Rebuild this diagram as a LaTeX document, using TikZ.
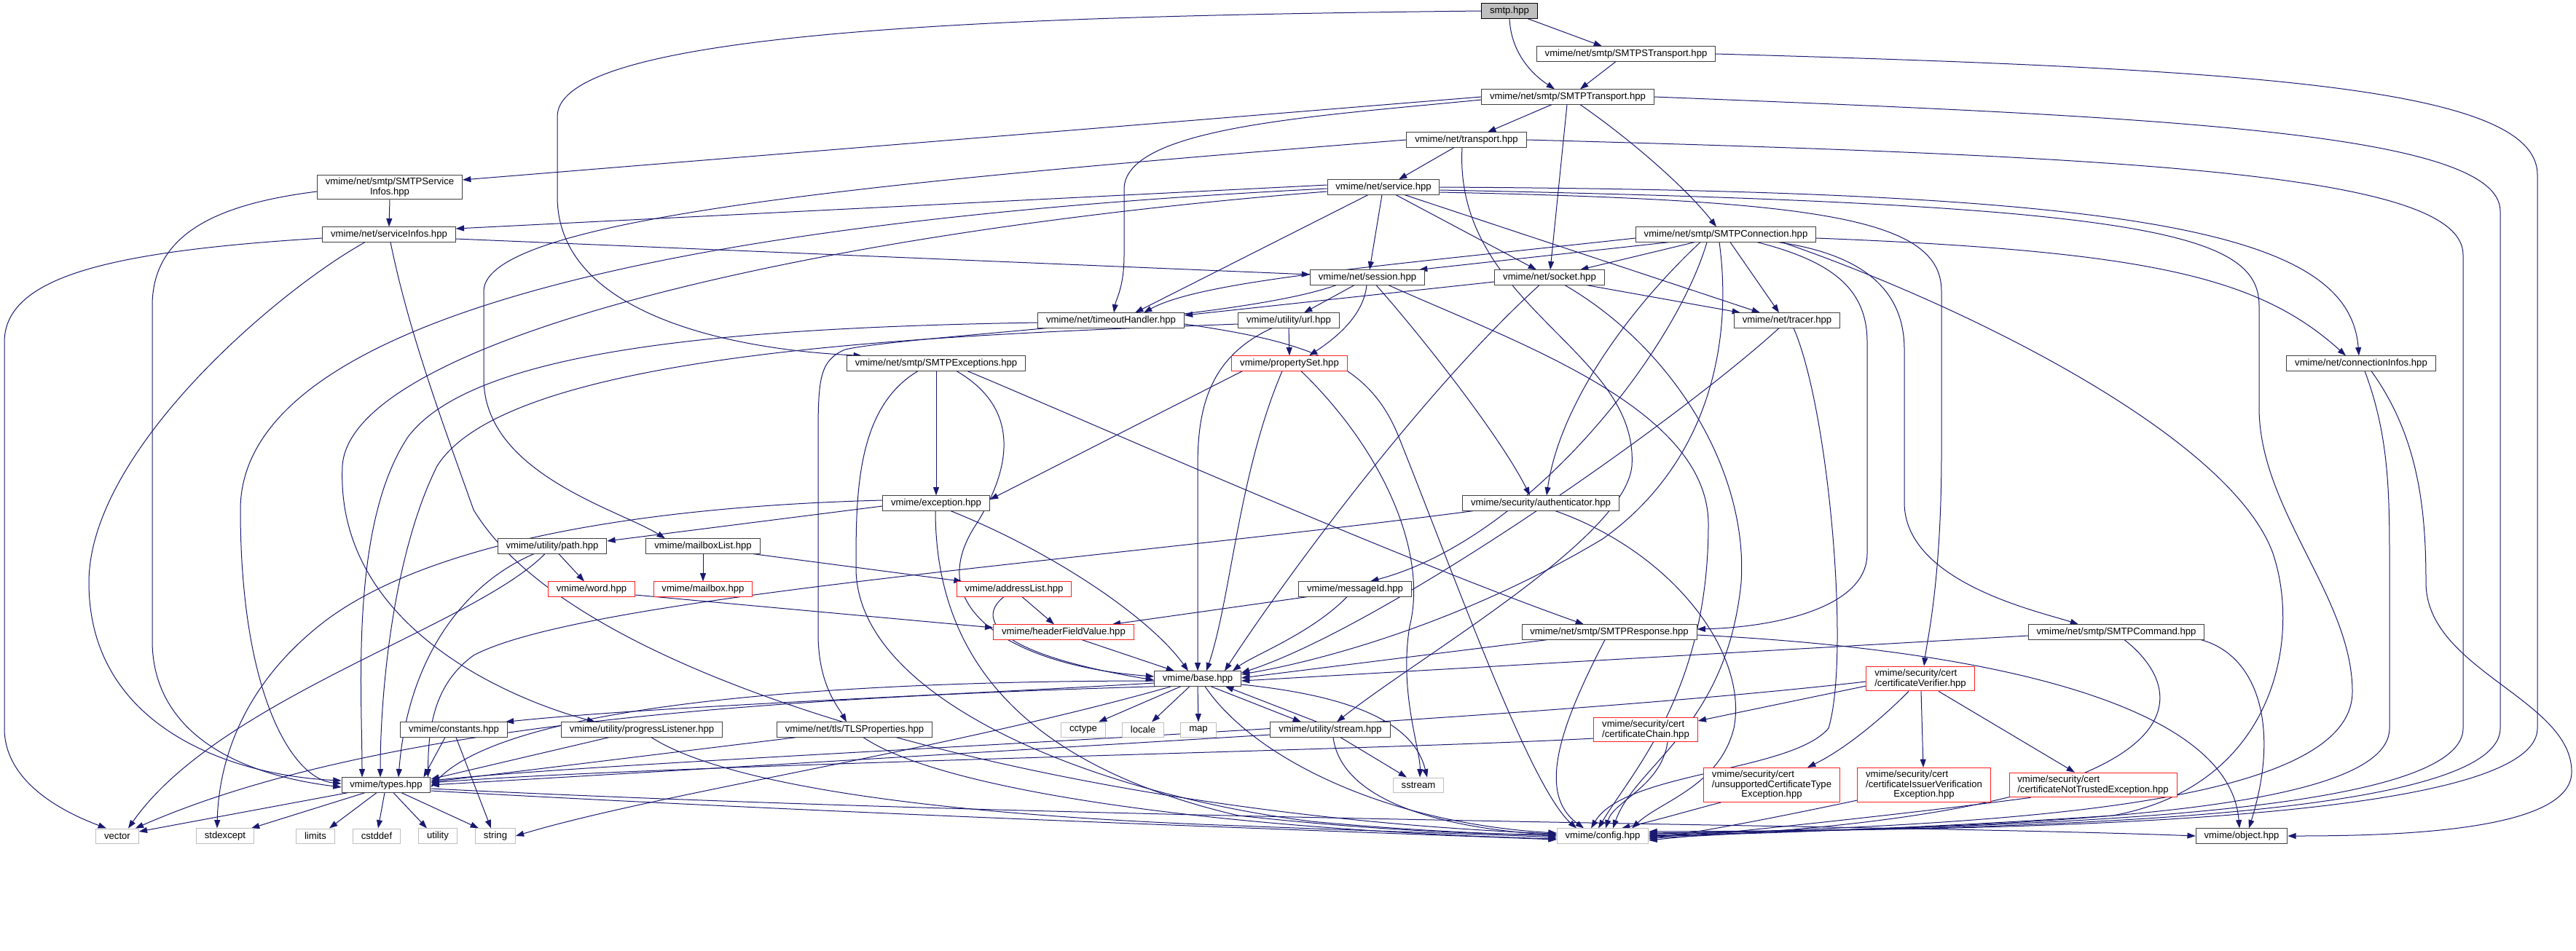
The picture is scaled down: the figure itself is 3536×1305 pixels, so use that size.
\documentclass[tikz,border=0pt]{standalone}
\usepackage{fontspec}
\setmainfont{Liberation Sans}
\usetikzlibrary{calc, arrows.meta, backgrounds}

\definecolor{edgeblue}{HTML}{191970}
\definecolor{sysgray}{HTML}{BFBFBF}
\definecolor{boxline}{HTML}{404040}
\definecolor{redbox}{HTML}{FF2020}

\tikzset{
  hdr/.style={draw=boxline, fill=white, line width=0.3mm, rectangle,
    inner xsep=3.4mm, inner ysep=1.2mm, minimum height=6mm,
    font=\fontsize{11.2}{10}\selectfont},
  hdrred/.style={hdr, draw=redbox},
  sys/.style={hdr, draw=sysgray},
  root/.style={hdr, draw=black, fill=sysgray},
  dep/.style={draw=edgeblue, line width=0.3mm,
    -{Triangle[length=3.4mm,width=2.4mm]}}
}

\begin{document}
\begin{tikzpicture}[x=0.3mm, y=-0.3mm]
  \useasboundingbox (0,0) rectangle (3536,1305);

  % files of the graph, one pixel of the reference = one unit
  \node[root] (smtp) at (2072,15) {smtp.hpp};
  \node[hdr] (SSTr) at (2232,74) {vmime/net/smtp/SMTPSTransport.hpp};
  \node[hdr] (STr) at (2152,133) {vmime/net/smtp/SMTPTransport.hpp};
  \node[hdr] (trans) at (2013,192) {vmime/net/transport.hpp};
  \node[hdr] (serv) at (1899,257) {vmime/net/service.hpp};
  \node[hdr, align=center] (SSI) at (535,257) {vmime/net/smtp/SMTPService\\Infos.hpp};
  \node[hdr] (SI) at (534,322) {vmime/net/serviceInfos.hpp};
  \node[hdr] (SConn) at (2369,322) {vmime/net/smtp/SMTPConnection.hpp};
  \node[hdr] (sess) at (1877,381) {vmime/net/session.hpp};
  \node[hdr] (sock) at (2127,381) {vmime/net/socket.hpp};
  \node[hdr] (toh) at (1525,440) {vmime/net/timeoutHandler.hpp};
  \node[hdr] (url) at (1769,440) {vmime/utility/url.hpp};
  \node[hdr] (tracer) at (2453,440) {vmime/net/tracer.hpp};
  \node[hdr] (SExc) at (1285,499) {vmime/net/smtp/SMTPExceptions.hpp};
  \node[hdrred] (pset) at (1770,499) {vmime/propertySet.hpp};
  \node[hdr] (cinfo) at (3241,499) {vmime/net/connectionInfos.hpp};
  \node[hdr] (exc) at (1285,691) {vmime/exception.hpp};
  \node[hdr] (auth) at (2115,691) {vmime/security/authenticator.hpp};
  \node[hdr] (upath) at (758,750) {vmime/utility/path.hpp};
  \node[hdr] (mblist) at (965,750) {vmime/mailboxList.hpp};
  \node[hdrred] (word) at (812,809) {vmime/word.hpp};
  \node[hdrred] (mbox) at (965,809) {vmime/mailbox.hpp};
  \node[hdrred] (alist) at (1392,809) {vmime/addressList.hpp};
  \node[hdr] (msgid) at (1860,809) {vmime/messageId.hpp};
  \node[hdrred] (hfv) at (1460,868) {vmime/headerFieldValue.hpp};
  \node[hdr] (SResp) at (2209,868) {vmime/net/smtp/SMTPResponse.hpp};
  \node[hdr] (SCmd) at (2905,868) {vmime/net/smtp/SMTPCommand.hpp};
  \node[hdr] (base) at (1644,932) {vmime/base.hpp};
  \node[hdrred, align=left] (cverif) at (2636,932) {vmime/security/cert\\/certificateVerifier.hpp};
  \node[hdr] (const) at (623,1002) {vmime/constants.hpp};
  \node[hdr] (plist) at (881,1002) {vmime/utility/progressListener.hpp};
  \node[hdr] (tls) at (1173,1002) {vmime/net/tls/TLSProperties.hpp};
  \node[sys] (cctype) at (1487,1002) {cctype};
  \node[sys] (locale) at (1569,1002) {locale};
  \node[sys] (map) at (1645,1002) {map};
  \node[hdr] (stream) at (1826,1002) {vmime/utility/stream.hpp};
  \node[hdrred, align=left] (cchain) at (2259,1002) {vmime/security/cert\\/certificateChain.hpp};
  \node[sys] (sstream) at (1947,1078) {sstream};
  \node[hdrred] (unsup) at (2432,1078) {\begin{tabular}{@{}l@{}}vmime/security/cert\\/unsupportedCertificateType\\\multicolumn{1}{@{}c@{}}{Exception.hpp}\end{tabular}};
  \node[hdrred] (issuer) at (2641,1078) {\begin{tabular}{@{}l@{}}vmime/security/cert\\/certificateIssuerVerification\\\multicolumn{1}{@{}c@{}}{Exception.hpp}\end{tabular}};
  \node[hdrred, align=left] (ntrust) at (2873,1078) {vmime/security/cert\\/certificateNotTrustedException.hpp};
  \node[hdr] (types) at (530,1078) {vmime/types.hpp};
  \node[sys] (vector) at (161,1148) {vector};
  \node[sys] (stdexcept) at (309,1148) {stdexcept};
  \node[sys] (limits) at (433,1148) {limits};
  \node[sys] (cstddef) at (517,1148) {cstddef};
  \node[sys] (utility) at (601,1148) {utility};
  \node[sys] (string) at (680,1148) {string};
  \node[sys] (config) at (2200,1148) {vmime/config.hpp};
  \node[hdr] (object) at (3077,1148) {vmime/object.hpp};

  \begin{pgfonlayer}{background}
  % smtp.hpp
  \draw[dep] (smtp.south) .. controls (2074,70) and (2100,100) .. ($(STr.north)+(-18,0)$);
  \draw[dep] ($(smtp.south)+(25,0)$) -- ($(SSTr.north)+(-33,0)$);
  \draw[dep] (smtp.west) .. controls (1400,22) and (765,40) .. (765,160) -- (765,270)
    .. controls (765,430) and (1000,480) .. ($(SExc.north west)+(21,0)$);
  % SMTPSTransport.hpp
  \draw[dep] ($(SSTr.south)+(-14,0)$) -- ($(STr.north)+(17,0)$);
  \draw[dep] (SSTr.east) .. controls (3100,95) and (3483,120) .. (3483,240) -- (3483,1000)
    .. controls (3483,1135) and (2700,1140) .. ($(config.east)+(0,-6)$);
  % SMTPTransport.hpp
  \draw[dep] (STr.east) .. controls (2950,160) and (3432,180) .. (3432,290) -- (3432,1000)
    .. controls (3432,1132) and (2700,1138) .. ($(config.east)+(0,-4)$);
  \draw[dep] ($(STr.south)+(-22,0)$) -- ($(trans.north)+(29,0)$);
  \draw[dep] ($(STr.south)+(-1,0)$) -- ($(sock.north)+(1,0)$);
  \draw[dep] ($(STr.west)+(0,4)$) .. controls (1800,160) and (1543,175) .. (1543,260) -- (1543,350)
    .. controls (1543,395) and (1532,410) .. ($(toh.north)+(4,0)$);
  \draw[dep] (STr.west) -- ($(SSI.east)+(0,-10)$);
  \draw[dep] ($(STr.south)+(17,0)$) .. controls (2250,200) and (2320,265) .. ($(SConn.north)+(-13,0)$);
  % transport.hpp
  \draw[dep] ($(trans.south)+(-17,0)$) -- ($(serv.north)+(21,0)$);
  \draw[dep] (trans.east) .. controls (2950,215) and (3381,240) .. (3381,350) -- (3381,1000)
    .. controls (3381,1128) and (2700,1136) .. ($(config.east)+(0,-3)$);
  \draw[dep] (trans.west) .. controls (1200,250) and (664,300) .. (664,400) -- (664,520)
    .. controls (664,650) and (850,700) .. ($(mblist.north)+(-52,0)$);
  \draw[dep] ($(trans.south)+(-6,0)$) .. controls (1995,420) and (2250,480) .. (2240,640)
    .. controls (2230,740) and (1950,900) .. ($(stream.north)+(9,0)$);
  % service.hpp
  \draw[dep] ($(serv.south)+(-2,0)$) -- ($(sess.north)+(3,0)$);
  \draw[dep] ($(serv.south)+(17,0)$) -- ($(sock.north)+(-18,0)$);
  \draw[dep] ($(serv.south)+(29,0)$) -- ($(tracer.north)+(-37,0)$);
  \draw[dep] ($(serv.south)+(-21,0)$) -- ($(toh.north)+(33,0)$);
  \draw[dep] ($(serv.west)+(0,-3)$) -- ($(SI.east)+(0,-8)$);
  \draw[dep] ($(serv.west)+(0,2)$) .. controls (1000,300) and (330,420) .. (330,700)
    .. controls (330,950) and (400,1070) .. ($(types.west)+(0,-2)$);
  \draw[dep] ($(serv.west)+(0,6)$) .. controls (1100,320) and (480,470) .. (470,640)
    .. controls (460,860) and (700,960) .. ($(plist.north)+(-64,0)$);
  \draw[dep] (serv.east) .. controls (2950,262) and (3225,320) .. ($(cinfo.north)+(-3,0)$);
  \draw[dep] ($(serv.east)+(0,4)$) .. controls (2950,280) and (3101,320) .. (3101,420) -- (3101,560)
    .. controls (3101,700) and (3229,820) .. (3229,950)
    .. controls (3229,1115) and (2700,1132) .. ($(config.east)+(0,-1)$);
  \draw[dep] ($(serv.east)+(0,7)$) .. controls (2500,275) and (2665,300) .. (2665,400) -- (2665,620)
    .. controls (2665,800) and (2645,880) .. ($(cverif.north)+(5,0)$);
  % SMTPServiceInfos.hpp
  \draw[dep] (SSI.south) -- (SI.north);
  \draw[dep] ($(SSI.west)+(0,6)$) .. controls (300,280) and (209,320) .. (209,420) -- (209,880)
    .. controls (209,990) and (300,1060) .. ($(types.west)+(0,3)$);
  % serviceInfos.hpp
  \draw[dep] ($(SI.west)+(0,5)$) .. controls (150,345) and (6,380) .. (6,470) -- (6,1000)
    .. controls (6,1080) and (100,1120) .. ($(vector.north)+(-15,0)$);
  \draw[dep] ($(SI.south)+(-33,0)$) .. controls (380,400) and (122,620) .. (122,800)
    .. controls (122,1000) and (320,1065) .. ($(types.west)+(0,-6)$);
  \draw[dep] ($(SI.south)+(2,0)$) .. controls (560,450) and (600,560) .. (650,700)
    .. controls (800,950) and (1500,1120) .. ($(config.west)+(0,-3)$);
  \draw[dep] ($(SI.east)+(0,6)$) -- ($(sess.west)+(0,-4)$);
  % SMTPConnection.hpp
  \draw[dep] ($(SConn.south)+(-78,0)$) -- ($(sess.north east)+(-8,0)$);
  \draw[dep] ($(SConn.south)+(-43,0)$) -- ($(sock.north)+(42,0)$);
  \draw[dep] ($(SConn.west)+(0,5)$) .. controls (1900,365) and (1650,385) .. ($(toh.north)+(45,0)$);
  \draw[dep] ($(SConn.south)+(6,0)$) -- ($(tracer.north)+(-11,0)$);
  \draw[dep] ($(SConn.south)+(-35,0)$) .. controls (2230,430) and (2140,560) .. ($(auth.north)+(8,0)$);
  \draw[dep] ($(SConn.south)+(-26,0)$) .. controls (2300,480) and (2100,740) .. ($(msgid.north)+(21,0)$);
  \draw[dep] ($(SConn.south)+(-9,0)$) .. controls (2380,480) and (2340,640) .. (2200,740)
    .. controls (2000,860) and (1800,910) .. ($(base.east)+(0,-6)$);
  \draw[dep] ($(SConn.south)+(43,0)$) .. controls (2520,360) and (2563,400) .. (2563,470) -- (2563,760)
    .. controls (2563,840) and (2420,862) .. ($(SResp.east)+(0,-4)$);
  \draw[dep] ($(SConn.south)+(72,0)$) .. controls (2560,350) and (2614,400) .. (2614,480) -- (2614,690)
    .. controls (2614,800) and (2800,840) .. ($(SCmd.north)+(-52,0)$);
  \draw[dep] ($(SConn.east)+(0,5)$) .. controls (2950,345) and (3100,380) .. ($(cinfo.north)+(-21,0)$);
  \draw[dep] ($(SConn.south)+(77,0)$) .. controls (2700,420) and (3062,600) .. (3120,760)
    .. controls (3160,880) and (3120,1080) .. (2900,1120)
    .. controls (2600,1140) and (2350,1146) .. ($(config.east)+(0,1)$);
  % session.hpp
  \draw[dep] ($(sess.south)+(-18,0)$) -- ($(url.north)+(21,0)$);
  \draw[dep] ($(sess.south)+(-1,0)$) .. controls (1872,430) and (1840,460) .. ($(pset.north)+(27,0)$);
  \draw[dep] ($(sess.south)+(12,0)$) .. controls (1950,460) and (2060,600) .. ($(auth.north)+(-15,0)$);
  \draw[dep] ($(sess.south)+(29,0)$) .. controls (2080,470) and (2345,560) .. (2345,720)
    .. controls (2345,950) and (2240,1060) .. ($(config.north)+(-6,0)$);
  \draw[dep] ($(sess.south)+(-43,0)$) .. controls (1700,440) and (1250,460) .. (1160,480)
    .. controls (1125,495) and (1123,520) .. (1123,600) -- (1123,870)
    .. controls (1123,940) and (1150,970) .. ($(tls.north)+(-11,0)$);
  % socket.hpp
  \draw[dep] ($(sock.west)+(0,6)$) -- ($(toh.east)+(0,-7)$);
  \draw[dep] ($(sock.south)+(-14,0)$) .. controls (1950,540) and (1760,800) .. ($(base.north east)+(-23,0)$);
  \draw[dep] ($(sock.south)+(51,0)$) -- ($(tracer.north)+(-64,0)$);
  \draw[dep] ($(sock.south)+(21,0)$) .. controls (2300,480) and (2400,650) .. (2390,800)
    .. controls (2370,1000) and (2245,1050) .. ($(config.north)+(14,0)$);
  % timeoutHandler.hpp
  \draw[dep] ($(toh.west)+(0,3)$) .. controls (1000,450) and (650,480) .. (560,600)
    .. controls (480,720) and (497,950) .. ($(types.north)+(-33,0)$);
  \draw[dep] ($(toh.east)+(0,5)$) .. controls (1800,470) and (1880,500) .. (1920,600)
    .. controls (2000,800) and (2100,1080) .. ($(config.north)+(-36,0)$);
  % url.hpp
  \draw[dep] (url.south) -- (pset.north);
  \draw[dep] ($(url.south)+(-23,0)$) .. controls (1660,490) and (1644,560) .. (1644,640) -- (base.north);
  \draw[dep] ($(url.west)+(0,5)$) .. controls (1300,460) and (700,480) .. (600,640)
    .. controls (540,760) and (522,950) .. ($(types.north)+(-8,0)$);
  % tracer.hpp
  \draw[dep] ($(tracer.south)+(-11,0)$) .. controls (2300,580) and (1900,860) .. ($(base.east)+(0,-8)$);
  \draw[dep] ($(tracer.south)+(9,0)$) .. controls (2510,560) and (2540,900) .. (2510,1000)
    .. controls (2460,1060) and (2230,1060) .. ($(config.north)+(-16,0)$);
  % propertySet.hpp
  \draw[dep] ($(pset.south west)+(15,0)$) -- ($(exc.east)+(0,-5)$);
  \draw[dep] ($(pset.south)+(-10,0)$) .. controls (1700,650) and (1690,820) .. ($(base.north)+(12,0)$);
  \draw[dep] ($(pset.south)+(16,0)$) .. controls (1900,620) and (1960,760) .. (1935,860)
    .. controls (1920,950) and (1950,1030) .. ($(sstream.north)+(2,0)$);
  % SMTPExceptions.hpp
  \draw[dep] (SExc.south) -- (exc.north);
  \draw[dep] ($(SExc.south)+(28,0)$) .. controls (1400,560) and (1390,640) .. (1340,720)
    .. controls (1260,840) and (1400,915) .. ($(base.west)+(0,-3)$);
  \draw[dep] ($(SExc.south)+(-25,0)$) .. controls (1175,560) and (1175,680) .. (1175,780)
    .. controls (1175,960) and (1500,1090) .. (1800,1128)
    .. controls (1950,1142) and (2060,1145) .. ($(config.west)+(0,0)$);
  \draw[dep] ($(SExc.south east)+(-80,0)$) .. controls (1450,560) and (1900,760) .. ($(SResp.north)+(-35,0)$);
  % exception.hpp
  \draw[dep] ($(exc.west)+(0,4)$) -- ($(upath.east)+(0,-7)$);
  \draw[dep] ($(exc.west)+(0,-4)$) .. controls (900,695) and (600,740) .. (450,850)
    .. controls (330,940) and (300,1050) .. ($(stdexcept.north)+(-11,0)$);
  \draw[dep] ($(exc.south)+(20,0)$) .. controls (1450,760) and (1580,850) .. ($(base.north)+(-13,0)$);
  \draw[dep] ($(exc.south)+(-1,0)$) .. controls (1284,900) and (1400,1050) .. (1700,1120)
    .. controls (1900,1142) and (2050,1146) .. ($(config.west)+(0,-2)$);
  % path, mailboxList, word, addressList, headerFieldValue, messageId
  \draw[dep] ($(upath.south)+(9,0)$) -- ($(word.north)+(-10,0)$);
  \draw[dep] ($(upath.south)+(-25,0)$) .. controls (640,800) and (560,900) .. ($(types.north)+(17,0)$);
  \draw[dep] ($(upath.south)+(-10,0)$) .. controls (650,860) and (300,960) .. ($(vector.north)+(15,0)$);
  \draw[dep] (mblist.south) -- (mbox.north);
  \draw[dep] ($(mblist.south east)+(-10,0)$) -- ($(alist.north west)+(8,0)$);
  \draw[dep] ($(word.east)+(0,8)$) -- ($(hfv.west)+(0,-6)$);
  \draw[dep] ($(alist.south)+(11,0)$) -- ($(hfv.north)+(-13,0)$);
  \draw[dep] ($(alist.south)+(-14,0)$) .. controls (1345,845) and (1350,895) .. ($(base.west)+(0,2)$);
  \draw[dep] ($(hfv.south)+(25,0)$) -- ($(base.north)+(-32,0)$);
  \draw[dep] ($(msgid.south west)+(12,0)$) -- ($(hfv.north east)+(-30,0)$);
  \draw[dep] ($(msgid.south)+(-11,0)$) .. controls (1800,870) and (1720,900) .. ($(base.north east)+(-12,0)$);
  % authenticator.hpp
  \draw[dep] ($(auth.south west)+(15,0)$) .. controls (1500,770) and (800,820) .. (650,900)
    .. controls (595,940) and (588,1000) .. ($(types.north east)+(-4,0)$);
  \draw[dep] ($(auth.south)+(20,0)$) .. controls (2300,760) and (2400,900) .. (2380,1000)
    .. controls (2360,1080) and (2280,1100) .. ($(config.north)+(40,0)$);
  % SMTPResponse.hpp, SMTPCommand.hpp
  \draw[dep] ($(SResp.south west)+(35,0)$) -- ($(base.east)+(0,-1)$);
  \draw[dep] ($(SResp.south)+(-6,0)$) .. controls (2140,1000) and (2110,1090) .. ($(config.north)+(-26,0)$);
  \draw[dep] ($(SResp.east)+(0,4)$) .. controls (2700,890) and (3060,960) .. ($(object.north)+(-3,0)$);
  \draw[dep] ($(SCmd.west)+(0,5)$) -- ($(base.east)+(0,3)$);
  \draw[dep] ($(SCmd.south)+(11,0)$) .. controls (3020,960) and (3020,1120) .. ($(config.east)+(0,3)$);
  \draw[dep] ($(SCmd.south east)+(-5,0)$) .. controls (3100,900) and (3130,1000) .. ($(object.north)+(10,0)$);
  % connectionInfos.hpp
  \draw[dep] ($(cinfo.south)+(5,0)$) .. controls (3280,600) and (3280,680) .. (3280,780) -- (3280,1000)
    .. controls (3280,1128) and (2700,1134) .. ($(config.east)+(0,0)$);
  \draw[dep] ($(cinfo.south)+(14,0)$) .. controls (3320,600) and (3330,700) .. (3330,800)
    .. controls (3330,920) and (3530,960) .. (3530,1060)
    .. controls (3530,1140) and (3300,1148) .. (object.east);
  % certificateVerifier.hpp
  \draw[dep] ($(cverif.west)+(0,10)$) -- ($(cchain.east)+(0,-12)$);
  \draw[dep] ($(cverif.west)+(0,4)$) .. controls (2000,1000) and (900,1040) .. ($(types.east)+(0,-6)$);
  \draw[dep] ($(cverif.south)+(-16,0)$) .. controls (2580,990) and (2530,1030) .. ($(unsup.north)+(49,0)$);
  \draw[dep] ($(cverif.south)+(1,0)$) -- ($(issuer.north)+(-1,0)$);
  \draw[dep] ($(cverif.south)+(25,0)$) -- ($(ntrust.north)+(-25,0)$);
  % certificateChain.hpp and the cert exceptions
  \draw[dep] ($(cchain.west)+(0,12)$) .. controls (1900,1030) and (900,1050) .. ($(types.east)+(0,-3)$);
  \draw[dep] ($(cchain.south)+(30,0)$) .. controls (2280,1080) and (2215,1100) .. ($(config.north)+(4,0)$);
  \draw[dep] ($(unsup.south west)+(24,0)$) .. controls (2330,1110) and (2280,1125) .. ($(config.north)+(26,0)$);
  \draw[dep] ($(issuer.south west)+(0,-3)$) .. controls (2450,1120) and (2350,1140) .. ($(config.east)+(0,4)$);
  \draw[dep] ($(ntrust.south west)+(30,0)$) .. controls (2600,1120) and (2400,1140) .. ($(config.east)+(0,6)$);
  % constants, progressListener, TLSProperties
  \draw[dep] ($(const.south)+(-12,0)$) -- ($(types.north east)+(-10,0)$);
  \draw[dep] ($(const.south)+(3,0)$) -- ($(string.north)+(-6,0)$);
  \draw[dep] ($(plist.south)+(-45,0)$) -- ($(types.east)+(0,-8)$);
  \draw[dep] ($(plist.south)+(13,0)$) .. controls (1000,1080) and (1300,1120) .. (1700,1134)
    .. controls (1900,1142) and (2050,1146) .. ($(config.west)+(0,2)$);
  \draw[dep] ($(tls.south west)+(27,0)$) -- ($(types.east)+(0,-4)$);
  \draw[dep] ($(tls.south)+(12,0)$) .. controls (1300,1090) and (1700,1140) .. ($(config.west)+(0,4)$);
  % stream.hpp
  \draw[dep] ($(stream.north)+(-18,0)$) -- ($(base.south east)+(-22,0)$);
  \draw[dep] ($(stream.west)+(0,7)$) .. controls (1400,1030) and (900,1060) .. ($(types.east)+(0,0)$);
  \draw[dep] ($(stream.south)+(14,0)$) -- ($(sstream.north)+(-16,0)$);
  \draw[dep] ($(stream.south)+(4,0)$) .. controls (1840,1090) and (1950,1135) .. ($(config.west)+(0,-1)$);
  % base.hpp
  \draw[dep] ($(base.south east)+(-42,0)$) -- ($(stream.north)+(-40,0)$);
  \draw[dep] ($(base.west)+(0,3)$) .. controls (1200,935) and (700,960) .. ($(types.east)+(0,3)$);
  \draw[dep] ($(base.west)+(0,6)$) .. controls (1300,955) and (900,970) .. ($(const.north east)+(-3,0)$);
  \draw[dep] ($(base.south west)+(5,0)$) .. controls (1000,960) and (500,1000) .. ($(vector.north east)+(-5,0)$);
  \draw[dep] ($(base.south)+(-36,0)$) .. controls (1300,1030) and (900,1090) .. (string.east);
  \draw[dep] ($(base.south)+(-23,0)$) -- ($(cctype.north)+(21,0)$);
  \draw[dep] ($(base.south)+(-11,0)$) -- ($(locale.north)+(12,0)$);
  \draw[dep] (base.south) -- (map.north);
  \draw[dep] ($(base.east)+(0,8)$) .. controls (1850,955) and (1940,990) .. ($(sstream.north)+(12,0)$);
  \draw[dep] ($(base.south)+(10,0)$) .. controls (1720,1040) and (1900,1130) .. ($(config.west)+(0,-4)$);
  % types.hpp
  \draw[dep] ($(types.south west)+(9,0)$) -- ($(vector.east)+(0,-6)$);
  \draw[dep] ($(types.south)+(-29,0)$) -- ($(stdexcept.north east)+(-4,0)$);
  \draw[dep] ($(types.south)+(-13,0)$) -- ($(limits.north)+(19,0)$);
  \draw[dep] ($(types.south)+(-2,0)$) -- ($(cstddef.north)+(2,0)$);
  \draw[dep] ($(types.south)+(10,0)$) -- ($(utility.north)+(-15,0)$);
  \draw[dep] ($(types.south)+(21,0)$) -- ($(string.north)+(-23,0)$);
  \draw[dep] ($(types.east)+(0,8)$) .. controls (1200,1120) and (1800,1140) .. ($(config.west)+(0,5)$);
  \draw[dep] ($(types.east)+(0,5)$) .. controls (1500,1128) and (2600,1132) .. (object.west);
  \end{pgfonlayer}
\end{tikzpicture}
\end{document}
